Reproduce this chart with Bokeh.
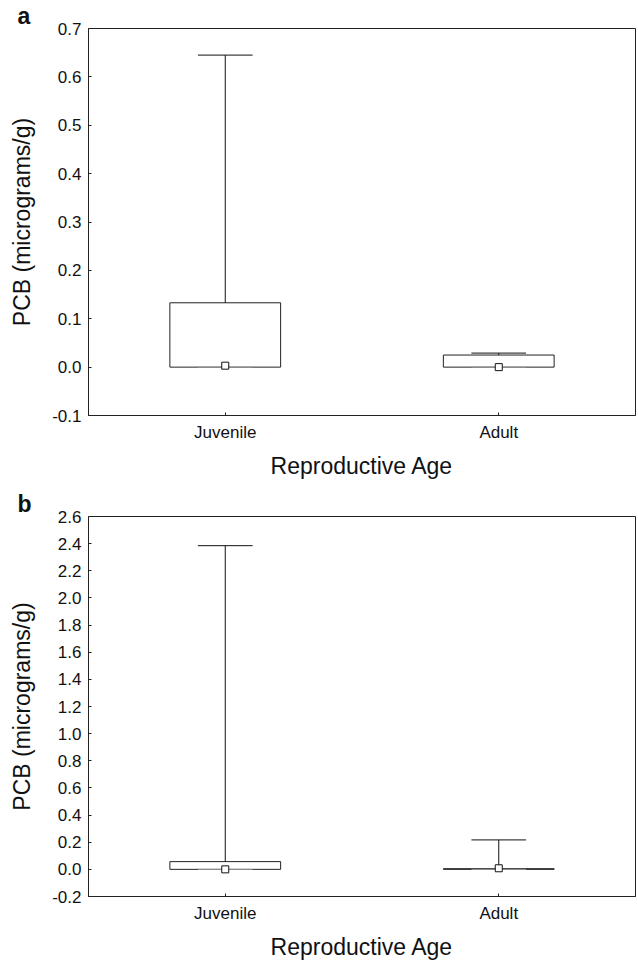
from bokeh.plotting import figure
from bokeh.layouts import column
from bokeh.models import FixedTicker, NumeralTickFormatter, Range1d
from bokeh.embed import file_html
from bokeh.resources import INLINE

categories = ["Juvenile", "Adult"]
cat_pos = [1, 2]

# Panel a
a_whisker_hi = [0.645, 0.029]
a_box_hi = [0.133, 0.025]
a_box_lo = [0.0, 0.0]
a_median = [0.003, 0.0]
a_whisker_lo = [0.0, 0.0]
a_ticks = [-0.1, 0.0, 0.1, 0.2, 0.3, 0.4, 0.5, 0.6, 0.7]

# Panel b
b_whisker_hi = [2.385, 0.217]
b_box_hi = [0.057, 0.005]
b_box_lo = [0.0, 0.0]
b_median = [0.0, 0.008]
b_whisker_lo = [0.0, 0.0]
b_ticks = [-0.2, 0.0, 0.2, 0.4, 0.6, 0.8, 1.0, 1.2, 1.4, 1.6, 1.8, 2.0, 2.2, 2.4, 2.6]

FONT = "Liberation Sans"
BOX_HALF = 0.2025
CAP_HALF = 0.1


def make_panel(letter, whi, bhi, blo, med, wlo, ticks, height, top, bottom):
    p = figure(width=636, height=height, output_backend="svg", toolbar_location=None,
               x_range=Range1d(0.5, 2.5), y_range=Range1d(ticks[0], ticks[-1]),
               min_border_left=88, min_border_right=1, min_border_top=top,
               min_border_bottom=bottom)
    p.grid.visible = False
    p.outline_line_color = "#222222"
    p.outline_line_width = 1
    p.background_fill_color = "white"
    p.border_fill_color = "white"

    # panel letter as title
    p.title.text = letter
    p.title.align = "left"
    p.title.offset = -71
    p.title.standoff = 0
    p.title.text_font = FONT
    p.title.text_font_size = "23px"
    p.title.text_font_style = "bold"
    p.title.text_color = "#111111"

    # boxes
    left = [x - BOX_HALF for x in cat_pos]
    right = [x + BOX_HALF for x in cat_pos]
    p.quad(left=left, right=right, bottom=blo, top=bhi, fill_color="white",
           line_color="#222222", line_width=1)
    # lower caps (light)
    p.segment(x0=[x - CAP_HALF for x in cat_pos], x1=[x + CAP_HALF for x in cat_pos],
              y0=wlo, y1=wlo, line_color="#999999", line_width=1)
    # whiskers
    p.segment(x0=cat_pos, x1=cat_pos, y0=bhi, y1=whi, line_color="#111111", line_width=1)
    p.segment(x0=[x - CAP_HALF for x in cat_pos], x1=[x + CAP_HALF for x in cat_pos],
              y0=whi, y1=whi, line_color="#111111", line_width=1)
    # median markers
    p.scatter(x=cat_pos, y=med, marker="square", size=7, fill_color="white",
              line_color="#111111", line_width=1)

    p.xaxis.ticker = FixedTicker(ticks=cat_pos)
    p.xaxis.major_label_overrides = {1: categories[0], 2: categories[1]}
    p.yaxis.ticker = FixedTicker(ticks=ticks)
    p.yaxis.formatter = NumeralTickFormatter(format="0.0")
    for ax in (p.xaxis, p.yaxis):
        ax.axis_line_color = "#222222"
        ax.major_tick_in = 3
        ax.major_tick_out = 0
        ax.minor_tick_line_color = None
        ax.major_tick_line_color = "#222222"
        ax.major_label_text_font = FONT
        ax.major_label_text_font_size = "17px"
        ax.major_label_text_color = "#111111"
        ax.axis_label_text_font = FONT
        ax.axis_label_text_font_size = "23px"
        ax.axis_label_text_font_style = "normal"
        ax.axis_label_text_color = "#111111"
    p.xaxis.axis_label = "Reproductive Age"
    p.yaxis.axis_label = "PCB (micrograms/g)"
    p.xaxis.major_label_standoff = 7
    p.xaxis.axis_label_standoff = 8
    p.yaxis.major_label_standoff = 7
    p.yaxis.axis_label_standoff = 14
    return p


pa = make_panel("a", a_whisker_hi, a_box_hi, a_box_lo, a_median, a_whisker_lo,
                a_ticks, 488, 19, 73)
pb = make_panel("b", b_whisker_hi, b_box_hi, b_box_lo, b_median, b_whisker_lo,
                b_ticks, 474, 26, 59)

layout = column(pa, pb, spacing=0)
open("out.html", "w").write(file_html(layout, INLINE))
